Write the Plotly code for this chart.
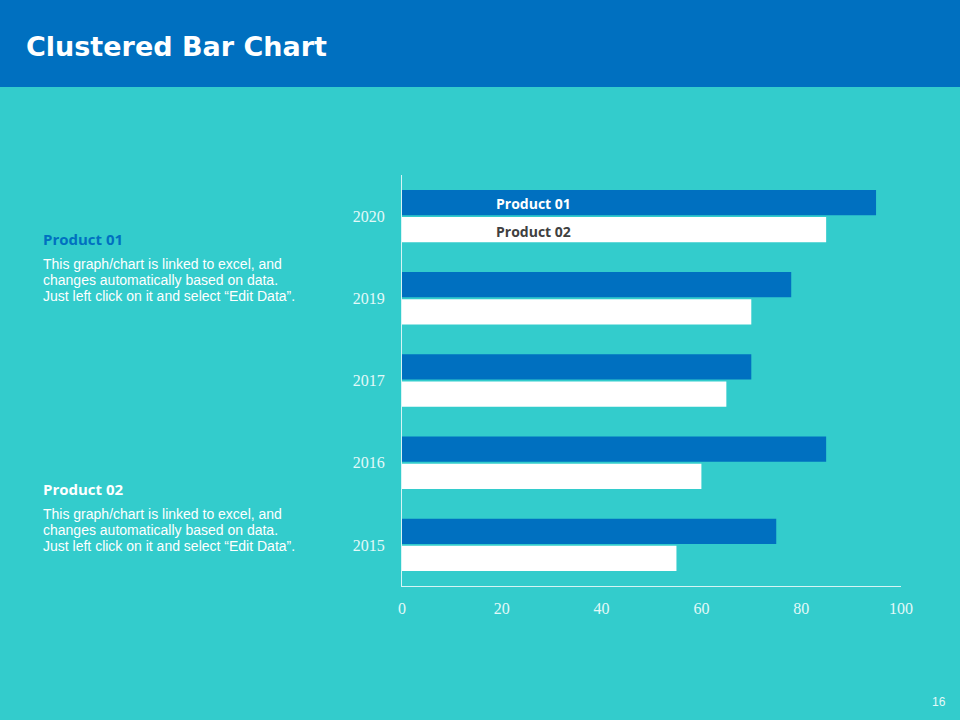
import plotly.graph_objects as go

years = ["2015", "2016", "2017", "2019", "2020"]
product01 = [75, 85, 70, 78, 95]
product02 = [55, 60, 65, 70, 85]
x_ticks = [0, 20, 40, 60, 80, 100]

BG = "#33CCCC"
BLUE = "#0070C0"
AXIS = "#D6F5F5"
TICK = "#E3F9F9"

W, H = 960, 720
def px(x):
    return x / W
def py(y):
    return 1 - y / H

fig = go.Figure()
fig.add_trace(go.Bar(y=years, x=product02, orientation="h", name="Product 02",
                     marker=dict(color="#FFFFFF", line=dict(width=0))))
fig.add_trace(go.Bar(y=years, x=product01, orientation="h", name="Product 01",
                     marker=dict(color=BLUE, line=dict(width=0))))

fig.update_layout(
    width=W, height=H, autosize=False,
    paper_bgcolor=BG, plot_bgcolor=BG,
    margin=dict(l=0, r=0, t=0, b=0, pad=0),
    barmode="group", bargap=0.34, bargroupgap=0.07,
    showlegend=False,
    xaxis=dict(domain=[px(402), px(901)], range=[0, 100], tickvals=x_ticks,
               automargin=False,
               showgrid=False, zeroline=False, showline=True, linecolor=AXIS,
               linewidth=1, ticks="", ticklabelstandoff=8,
               tickfont=dict(family="Liberation Serif", size=16, color=TICK)),
    yaxis=dict(domain=[py(586), py(175)], categoryorder="array", categoryarray=years,
               automargin=False,
               showgrid=False, zeroline=False, showline=True, linecolor=AXIS,
               linewidth=1, ticks="", ticklabelstandoff=13,
               tickfont=dict(family="Liberation Serif", size=16, color=TICK)),
)

shapes = [dict(type="rect", xref="paper", yref="paper", x0=-0.05, x1=1.05, y0=py(87), y1=1.05,
               fillcolor=BLUE, line=dict(width=0), layer="below")]
fig.update_layout(shapes=shapes)

body_lines = ["This graph/chart is linked to excel, and",
              "changes automatically based on data.",
              "Just left click on it and select \u201cEdit Data\u201d."]

annotations = [
    dict(text="<b>Clustered Bar Chart</b>", x=px(24), y=py(47), xanchor="left", yanchor="middle",
         font=dict(family="DejaVu Sans", size=27, color="#FFFFFF")),
    dict(text="<b>Product 01</b>", x=px(41), y=py(239), xanchor="left", yanchor="middle",
         font=dict(family="Open Sans", size=15, color=BLUE)),
    dict(text="<b>Product 02</b>", x=px(41), y=py(489), xanchor="left", yanchor="middle",
         font=dict(family="Open Sans", size=15, color="#FFFFFF")),
    dict(text="<b>Product 01</b>", x=px(494), y=py(203), xanchor="left", yanchor="middle",
         font=dict(family="Open Sans", size=14, color="#FFFFFF")),
    dict(text="<b>Product 02</b>", x=px(494), y=py(232), xanchor="left", yanchor="middle",
         font=dict(family="Open Sans", size=14, color="#404040")),
    dict(text="16", x=px(948), y=py(702), xanchor="right", yanchor="middle",
         font=dict(family="Liberation Sans", size=12, color=TICK)),
]
for top in (264, 514):
    for i, line in enumerate(body_lines):
        annotations.append(dict(text=line, x=px(41), y=py(top + 16 * i), xanchor="left",
                                yanchor="middle",
                                font=dict(family="Liberation Sans", size=14, color="#FFFFFF")))
for a in annotations:
    a.update(xref="paper", yref="paper", showarrow=False)
fig.update_layout(annotations=annotations)

css_js = ("var s=document.createElement('style');"
          "s.innerHTML='html,body{margin:0;padding:0;overflow:hidden;background:#33CCCC;}';"
          "document.head.appendChild(s);")

fig.write_html("out.html",
               config={"responsive": False, "displayModeBar": False},
               post_script=css_js)
